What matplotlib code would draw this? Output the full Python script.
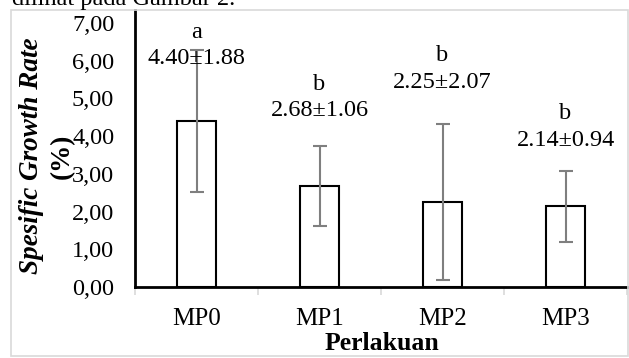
import matplotlib.pyplot as plt
from matplotlib.patches import Rectangle
import numpy as np

plt.rcParams['font.family'] = ['Liberation Serif', 'DejaVu Serif']
plt.rcParams['font.size'] = 17.5

perlakuan = ['MP0', 'MP1', 'MP2', 'MP3']
rata = [4.40, 2.68, 2.25, 2.14]
sd = [1.88, 1.06, 2.07, 0.94]
notasi = ['a', 'b', 'b', 'b']
# posisi label (pusat dua baris)
posisi_label = [6.40, 5.03, 5.78, 4.24]

fig = plt.figure(figsize=(6.29, 3.58), dpi=100)
W, H = 629, 358

# bingkai abu-abu chart area
fig.patches.append(Rectangle((11 / W, 1 - 356 / H), 617 / W, 346 / H,
                             transform=fig.transFigure, fill=False,
                             edgecolor='#d9d9d9', linewidth=1.2))

# potongan teks dokumen di atas
fig.text(12 / W, 1 - 5 / H, 'dilihat pada Gambar 2.', va='baseline', ha='left')

ax = fig.add_axes([135 / W, 1 - 287 / H, 492 / W, 277 / H])
x = np.arange(len(perlakuan))
ax.bar(x, rata, width=0.32, color='white', edgecolor='black', linewidth=1.5, zorder=2)
ax.errorbar(x, rata, yerr=sd, fmt='none', ecolor='#7f7f7f', elinewidth=1.5,
            capsize=4.7, capthick=1.5, zorder=3)

for i in range(len(perlakuan)):
    ax.text(x[i], posisi_label[i], '%s\n%.2f±%.2f' % (notasi[i], rata[i], sd[i]),
            ha='center', va='center', linespacing=1.35, zorder=4)

ax.set_xlim(-0.5, 3.5)
ax.set_ylim(0, 7.345)
ax.set_yticks(np.arange(0, 8, 1))
ax.set_yticklabels(['%d,00' % v for v in range(8)])
ax.set_xticks(x)
ax.set_xticklabels(perlakuan, fontsize=18)
ax.set_xticks(np.arange(-0.5, 4, 1), minor=True)
ax.tick_params(axis='y', length=0, pad=15)
ax.tick_params(axis='x', which='major', length=0, pad=15)
ax.tick_params(axis='x', which='minor', length=6, color='#d9d9d9', width=1.2)

for s in ['top', 'right']:
    ax.spines[s].set_visible(False)
ax.spines['left'].set_linewidth(2)
ax.spines['bottom'].set_linewidth(2)

fig.text(32 / W, 1 - 156 / H, 'Spesific Growth Rate', rotation=90, ha='center',
         va='center', fontweight='bold', fontstyle='italic', fontsize=19.5)
fig.text(62 / W, 1 - 156 / H, '(%)', rotation=90, ha='center', va='center',
         fontweight='bold', fontsize=19.5)
fig.text(382 / W, 1 - 344 / H, 'Perlakuan', ha='center', va='center',
         fontweight='bold', fontsize=18.5)

fig.savefig('out.png', dpi=100)
